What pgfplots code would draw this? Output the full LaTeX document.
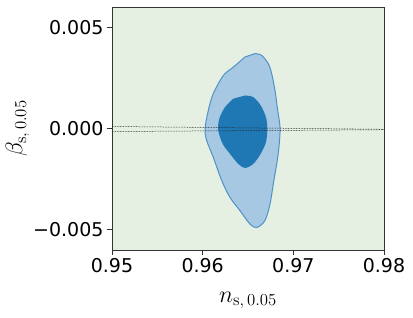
\RequirePackage{fix-cm}
\documentclass[border=0pt]{standalone}
\usepackage[no-math]{fontspec}
\usepackage{pgfplots}
\pgfplotsset{compat=1.18}
\newfontfamily\dejavu{DejaVu Sans}
\definecolor{bg}{RGB}{229,240,227}
\definecolor{outerfill}{RGB}{166,200,226}
\definecolor{outeredge}{RGB}{80,146,200}
\definecolor{innerfill}{RGB}{31,119,180}
\begin{document}
\begin{tikzpicture}
\begin{axis}[
 name=ax,
 scale only axis, width=272pt, height=243pt,
 xmin=0.95, xmax=0.98, ymin=-0.006, ymax=0.006,
 axis background/.style={fill=bg},
 xtick={0.95,0.96,0.97,0.98}, xticklabels={0.95,0.96,0.97,0.98},
 ytick={-0.005,0,0.005}, yticklabels={−0.005,0.000,0.005},
 scaled ticks=false,
 tick align=outside, tick pos=left, major tick length=5pt,
 every tick/.style={black!80, line width=0.8pt},
 axis line style={black!80, line width=0.8pt},
 ticklabel style={font=\dejavu\fontsize{19}{22}\selectfont},
 xlabel={$n_{\mathrm{s},\,0.05}$}, ylabel={$\beta_{\mathrm{s},\,0.05}$},
 label style={font=\fontsize{24}{28}\selectfont},
 xlabel style={yshift=-12pt},
 ylabel style={yshift=-3pt},
]
\addplot[fill=outerfill, draw=outeredge, line width=1pt, smooth, tension=0.5] coordinates {
(0.96577,0.00370) (0.96651,0.00361) (0.96724,0.00320) (0.96761,0.00271)
(0.96798,0.00188) (0.96823,0.00105) (0.96853,0.00006) (0.96845,-0.00076)
(0.96823,-0.00158) (0.96779,-0.00274) (0.96743,-0.00373) (0.96687,-0.00455)
(0.96596,-0.00489) (0.96522,-0.00472) (0.96412,-0.00406) (0.96301,-0.00340)
(0.96210,-0.00257) (0.96117,-0.00142) (0.96044,-0.00059) (0.96026,-0.00001)
(0.96062,0.00089) (0.96117,0.00172) (0.96228,0.00262) (0.96338,0.00303)
(0.96467,0.00353)
} -- cycle;
\addplot[fill=innerfill, draw=none, smooth, tension=0.5] coordinates {
(0.96467,0.00163) (0.96558,0.00155) (0.96640,0.00114) (0.96698,0.00056)
(0.96713,-0.00001) (0.96698,-0.00068) (0.96640,-0.00125) (0.96558,-0.00175)
(0.96467,-0.00195) (0.96393,-0.00175) (0.96301,-0.00125) (0.96221,-0.00076)
(0.96172,-0.00010) (0.96183,0.00048) (0.96246,0.00105) (0.96338,0.00147)
} -- cycle;
\addplot[black!85, line width=0.5pt, dash pattern=on 0.8pt off 0.8pt] coordinates {(0.95,0.00010) (0.98,-0.00004)};
\addplot[black!85, line width=0.5pt, dash pattern=on 0.8pt off 0.8pt] coordinates {(0.95,-0.00015) (0.98,-0.00006)};
\end{axis}
\pgfresetboundingbox
\path ([xshift=-112pt,yshift=-68pt]ax.south west) rectangle ([xshift=29pt,yshift=7pt]ax.north east);
\end{tikzpicture}
\end{document}
